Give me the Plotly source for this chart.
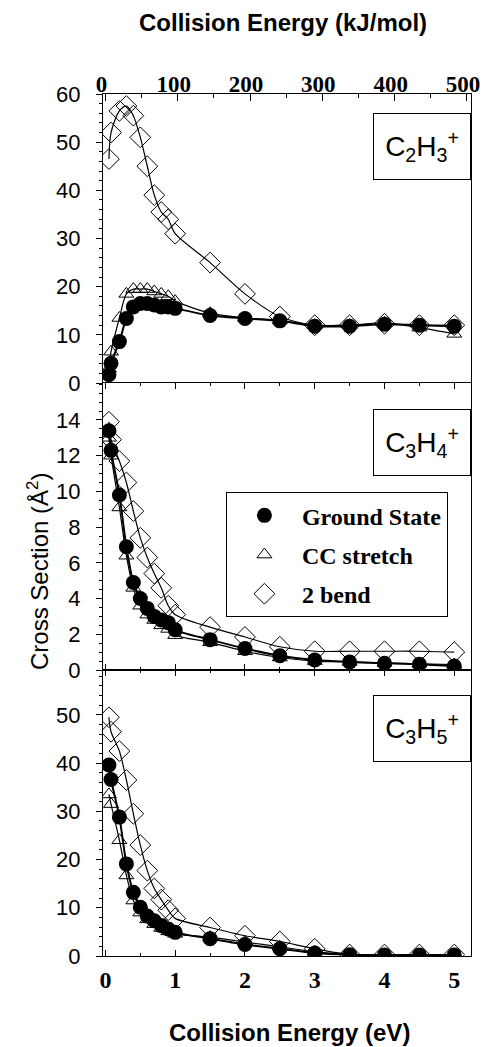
import plotly.graph_objects as go
from plotly.subplots import make_subplots

# ---------------- data ----------------
energy_ev = [0.05, 0.08, 0.2, 0.3, 0.4, 0.5, 0.6, 0.7, 0.8, 0.9, 1.0,
             1.5, 2.0, 2.5, 3.0, 3.5, 4.0, 4.5, 5.0]

# C2H3+
c2h3_ground = [1.7, 4.1, 8.6, 13.4, 15.8, 16.5, 16.5, 16.2, 15.8, 15.8, 15.5,
               14.0, 13.4, 12.9, 11.8, 11.8, 12.2, 12.0, 11.8]
c2h3_ccstretch = [3.0, 6.5, 13.5, 18.5, 19.5, 19.5, 19.5, 19.0, 18.5, 18.0, 17.0,
                  14.5, 13.5, 13.0, 12.0, 12.0, 12.5, 11.5, 10.2]
c2h3_bend = [46.5, 52.0, 56.5, 57.5, 55.5, 51.0, 45.0, 39.0, 35.5, 34.0, 31.0,
             25.0, 18.5, 13.8, 12.0, 12.0, 12.3, 12.0, 12.0]

# C3H4+
c3h4_ground = [13.4, 12.3, 9.8, 6.9, 4.9, 4.0, 3.45, 3.0, 2.8, 2.65, 2.25,
               1.7, 1.2, 0.8, 0.56, 0.45, 0.38, 0.32, 0.22]
c3h4_ccstretch = [13.0, 12.0, 9.1, 6.4, 4.6, 3.6, 3.1, 2.8, 2.5, 2.3, 1.95,
                  1.55, 1.05, 0.7, 0.5, 0.45, 0.4, 0.35, 0.3]
c3h4_bend = [13.9, 12.9, 11.7, 10.5, 8.9, 7.4, 6.3, 5.4, 4.6, 3.6, 3.1,
             2.4, 1.85, 1.3, 1.05, 1.05, 1.05, 1.05, 1.0]

# C3H5+
c3h5_ground = [39.6, 36.6, 28.8, 19.1, 13.2, 10.1, 8.3, 7.3, 6.3, 5.6, 4.9,
               3.6, 2.4, 1.5, 0.6, 0.25, 0.2, 0.2, 0.2]
c3h5_ccstretch = [33.5, 31.5, 24.0, 16.7, 11.5, 9.0, 7.6, 6.6, 5.8, 5.1, 4.6,
                  3.9, 2.9, 1.9, 0.9, 0.3, 0.2, 0.2, 0.2]
c3h5_bend = [49.5, 46.5, 42.5, 36.5, 29.5, 23.0, 17.7, 14.0, 11.7, 9.5, 7.8,
             5.9, 4.2, 3.0, 1.5, 0.3, 0.3, 0.3, 0.3]

series_names = ["Ground State", "CC stretch", "2 bend"]
panel_labels = ["C<sub>2</sub>H<sub>3</sub><sup>+</sup>",
                "C<sub>3</sub>H<sub>4</sub><sup>+</sup>",
                "C<sub>3</sub>H<sub>5</sub><sup>+</sup>"]

ev_ticks = [0, 1, 2, 3, 4, 5]
kj_ticks = [0, 100, 200, 300, 400, 500]
kj_minor = [50, 150, 250, 350, 450]
KJ_PER_EV = 96.485

y_ticks = [
    [0, 10, 20, 30, 40, 50, 60],
    [0, 2, 4, 6, 8, 10, 12, 14],
    [0, 10, 20, 30, 40, 50],
]
y_ranges = [[0, 60], [0, 16.07], [0, 59.3]]
y_minor_dtick = [2, 0.5, 2]
x_range = [-0.035, 5.24]

# ---------------- figure ----------------
SANS = "Liberation Sans, Arial, sans-serif"
SERIF = "Liberation Serif, Times New Roman, serif"

fig = make_subplots(rows=3, cols=1, vertical_spacing=0,
                    row_heights=[289, 287, 286])

panels = [
    (c2h3_ground, c2h3_ccstretch, c2h3_bend),
    (c3h4_ground, c3h4_ccstretch, c3h4_bend),
    (c3h5_ground, c3h5_ccstretch, c3h5_bend),
]

marker_styles = [
    dict(symbol="circle", size=15, color="black"),
    dict(symbol="triangle-up-open", size=13, color="black",
         line=dict(width=1, color="black")),
    dict(symbol="diamond-open", size=16, color="black",
         line=dict(width=1, color="black")),
]
line_widths = [2, 1.2, 1.2]

for i, (gs, cc, bd) in enumerate(panels):
    row = i + 1
    for k, ys in [(2, bd), (1, cc), (0, gs)]:
        fig.add_trace(go.Scatter(
            x=energy_ev, y=ys, mode="lines+markers", name=series_names[k],
            line=dict(color="black", width=line_widths[k], shape="spline",
                      smoothing=0.8),
            marker=marker_styles[k], showlegend=False), row=row, col=1)

    fig.update_yaxes(
        row=row, col=1, range=y_ranges[i], tickmode="array",
        tickvals=y_ticks[i], ticks="outside", ticklen=6, tickwidth=1,
        tickcolor="black", showline=True, linecolor="black", linewidth=1,
        mirror=True, showgrid=False, zeroline=False, automargin=False,
        ticklabelstandoff=11,
        tickfont=dict(family=SANS, size=22, color="black"),
        minor=dict(ticks="outside", ticklen=3, dtick=y_minor_dtick[i],
                   tickcolor="black", showgrid=False))

# legend entries (markers only)
for k in range(3):
    fig.add_trace(go.Scatter(
        x=[None], y=[None], mode="markers", name=series_names[k],
        marker=marker_styles[k], showlegend=True,
        legendgroup="g%d" % k, legendrank=k + 1), row=2, col=1)

# top axis (kJ/mol) on panel 1
fig.update_xaxes(
    row=1, col=1, range=x_range, side="top", tickmode="array",
    tickvals=[k / KJ_PER_EV for k in kj_ticks],
    ticktext=[str(k) for k in kj_ticks],
    ticks="inside", ticklen=7, tickcolor="black",
    showline=True, linecolor="black", linewidth=1, mirror=False,
    showgrid=False, zeroline=False, automargin=False,
    ticklabelstandoff=-8, ticklabelshift=-4,
    tickfont=dict(family=SERIF, size=23, color="black", weight="bold"),
    minor=dict(ticks="inside", ticklen=4, tickmode="array",
               tickvals=[k / KJ_PER_EV for k in kj_minor],
               tickcolor="black", showgrid=False))

for row in (2, 3):
    fig.update_xaxes(
        row=row, col=1, range=x_range, tickmode="array", tickvals=ev_ticks,
        ticks="inside", ticklen=6, tickcolor="black",
        showline=True, linecolor="black", linewidth=1, mirror="ticks",
        showgrid=False, zeroline=False, automargin=False,
        showticklabels=(row == 3), ticklabelstandoff=2,
        tickfont=dict(family=SERIF, size=24, color="black", weight="bold"),
        minor=dict(ticks="inside", ticklen=3, dtick=0.5, tick0=0,
                   tickcolor="black", showgrid=False))

# panel label boxes
label_y = [0.978, 0.6346, 0.3028]
for txt, yy in zip(panel_labels, label_y):
    fig.add_annotation(
        text=txt, xref="paper", yref="paper", x=1, y=yy,
        xanchor="right", yanchor="top", showarrow=False,
        font=dict(family=SANS, size=28, color="black"),
        bordercolor="black", borderwidth=1, borderpad=0,
        width=96, height=65, bgcolor="white")

# axis titles
fig.add_annotation(
    text="Collision Energy (kJ/mol)", xref="paper", yref="paper",
    x=0.489, y=1.0824, showarrow=False, xanchor="center", yanchor="middle",
    font=dict(family=SANS, size=24, color="black", weight="bold"))
fig.add_annotation(
    text="Collision Energy (eV)", xref="paper", yref="paper",
    x=0.508, y=-0.0893, showarrow=False, xanchor="center", yanchor="middle",
    font=dict(family=SANS, size=24, color="black", weight="bold"))
fig.add_annotation(
    text="Cross Section (Å<sup>2</sup>)", xref="paper", yref="paper",
    x=-0.1766, y=0.4455, showarrow=False, textangle=-90,
    xanchor="center", yanchor="middle",
    font=dict(family=SANS, size=24, color="black"))

fig.update_layout(
    width=483, height=1047,
    margin=dict(l=103, r=12, t=94, b=91, autoexpand=False),
    paper_bgcolor="white", plot_bgcolor="white",
    showlegend=True,
    legend=dict(x=0.334, y=0.538, xanchor="left", yanchor="top",
                bordercolor="black", borderwidth=1, bgcolor="white",
                font=dict(family=SERIF, size=24, color="black", weight="bold"),
                itemwidth=65, tracegroupgap=5, traceorder="grouped"),
)

# remove the default page margin so the figure fills the window exactly
page_fix = (
    "document.documentElement.style.margin='0';"
    "document.documentElement.style.overflow='hidden';"
    "document.body.style.margin='0';"
    "document.body.style.overflow='hidden';"
)

fig.write_html("out.html", config={"displayModeBar": False},
               post_script=page_fix)
